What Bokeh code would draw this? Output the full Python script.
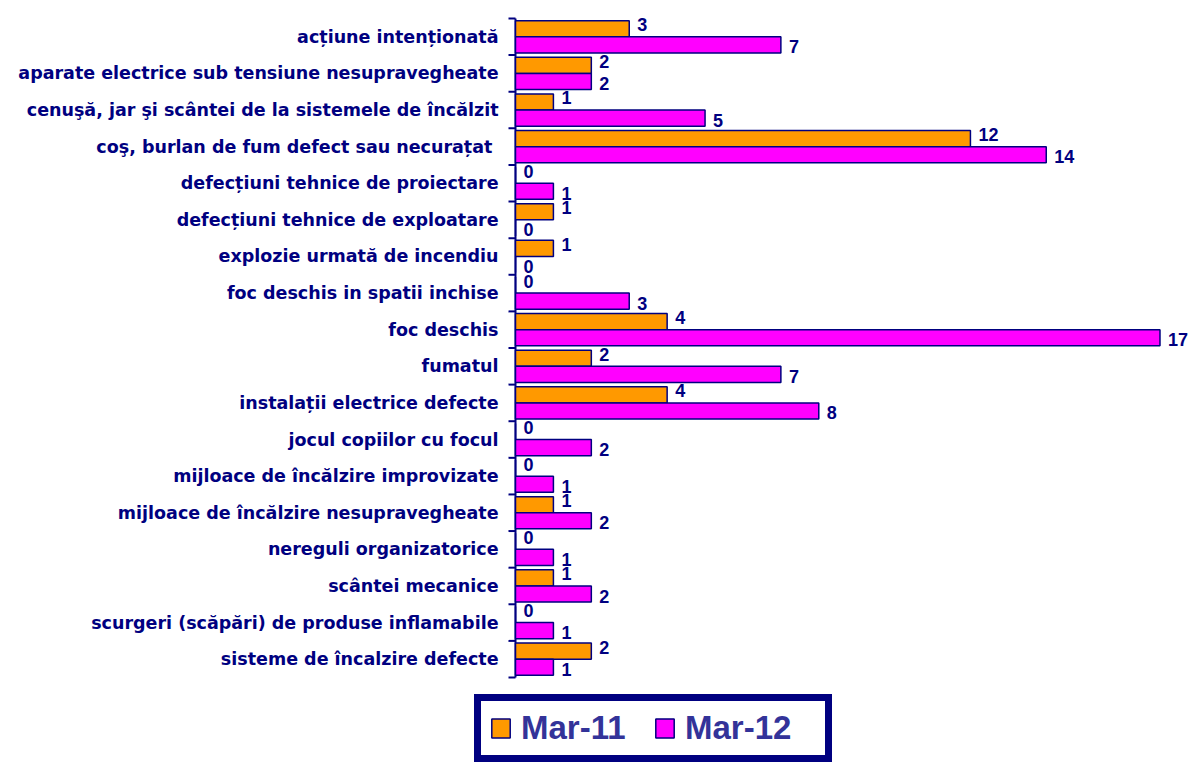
from bokeh.plotting import figure
from bokeh.models import ColumnDataSource, Range1d, Legend, LegendItem
from bokeh.core.properties import value
from bokeh.embed import file_html
from bokeh.resources import INLINE

categories = [
    "acțiune intenționată",
    "aparate electrice sub tensiune nesupravegheate",
    "cenuşă, jar şi scântei de la sistemele de încălzit",
    "coş, burlan  de fum defect sau necurațat",
    "defecțiuni tehnice de proiectare",
    "defecțiuni tehnice de exploatare",
    "explozie urmată de incendiu",
    "foc deschis in spatii inchise",
    "foc deschis",
    "fumatul",
    "instalații electrice defecte",
    "jocul copiilor cu focul",
    "mijloace de încălzire improvizate",
    "mijloace de încălzire nesupravegheate",
    "nereguli organizatorice",
    "scântei mecanice",
    "scurgeri (scăpări) de produse inflamabile",
    "sisteme de încalzire defecte",
]
series = ["Mar-11", "Mar-12"]
mar11 = [3, 2, 1, 12, 0, 1, 1, 0, 4, 2, 4, 0, 0, 1, 0, 1, 0, 2]
mar12 = [7, 2, 5, 14, 1, 0, 0, 3, 17, 7, 8, 2, 1, 2, 1, 2, 1, 1]

colors = ["#FF9900", "#FF00FF"]
navy = "#000080"

# canvas geometry (pixels)
W, H = 1193, 762
axis_px = 515          # x position of the value axis
top_px, bottom_px = 18, 677

n = len(categories)
centers = [n - i - 0.5 for i in range(n)]   # first category at the top
off = 0.22
bh = 0.44

xmax = max(mar11 + mar12) * 1.052
px_x = (W - axis_px) / xmax
xmin = -axis_px / px_x
px_y = (bottom_px - top_px) / n
ymax = n + top_px / px_y
ymin = -(H - bottom_px) / px_y
tick_len = 7 / px_x

src = ColumnDataSource(dict(
    cat=categories,
    zero=[0] * n,
    yc=centers,
    y11=[c + off for c in centers], y12=[c - off for c in centers],
    m11=mar11, m12=mar12,
    l11=[str(v) for v in mar11], l12=[str(v) for v in mar12],
))
bounds = list(range(n + 1))
tsrc = ColumnDataSource(dict(yb=bounds, x0=[-tick_len] * len(bounds), x1=[0] * len(bounds)))

p = figure(width=W, height=H, output_backend="svg", toolbar_location=None,
           x_range=Range1d(xmin, xmax), y_range=Range1d(ymin, ymax),
           x_axis_location=None, y_axis_location=None,
           min_border_left=0, min_border_right=0, min_border_top=0, min_border_bottom=0)
p.outline_line_color = None
p.background_fill_color = "white"
p.grid.visible = False

# value axis line and category boundary ticks
p.segment(x0=[0], y0=[0], x1=[0], y1=[n], line_color=navy, line_width=2)
p.segment(x0="x0", y0="yb", x1="x1", y1="yb", source=tsrc, line_color=navy, line_width=2)

# category labels
p.text(x="zero", y="yc", text="cat", source=src, x_offset=-17,
       text_align="right", text_baseline="middle",
       text_font=value("DejaVu Sans"), text_font_style="bold",
       text_font_size="17.5px", text_color=navy)

r1 = p.hbar(y="y11", left=0, right="m11", height=bh, source=src,
            fill_color=colors[0], line_color=navy, line_width=1.5)
r2 = p.hbar(y="y12", left=0, right="m12", height=bh, source=src,
            fill_color=colors[1], line_color=navy, line_width=1.5)

lbl_kw = dict(source=src, text_font=value("Liberation Sans"), text_font_style="bold",
              text_font_size="18px", text_color=navy, text_baseline="middle", text_align="left",
              x_offset=8)
p.text(x="m11", y="y11", text="l11", y_offset=-4, **lbl_kw)
p.text(x="m12", y="y12", text="l12", y_offset=2, **lbl_kw)

legend = Legend(items=[LegendItem(label=series[0], renderers=[r1]),
                       LegendItem(label=series[1], renderers=[r2])],
                orientation="horizontal", location=(474, 0),
                padding=8, spacing=0, margin=0,
                glyph_width=23, glyph_height=24, label_standoff=9, label_width=132,
                label_text_font="Liberation Sans", label_text_font_style="bold",
                label_text_font_size="33px", label_text_color="#333399",
                border_line_color=navy, border_line_width=7, border_line_alpha=1.0,
                background_fill_color="white", background_fill_alpha=1.0)
p.add_layout(legend, "center")

open("out.html", "w").write(file_html(p, INLINE))
